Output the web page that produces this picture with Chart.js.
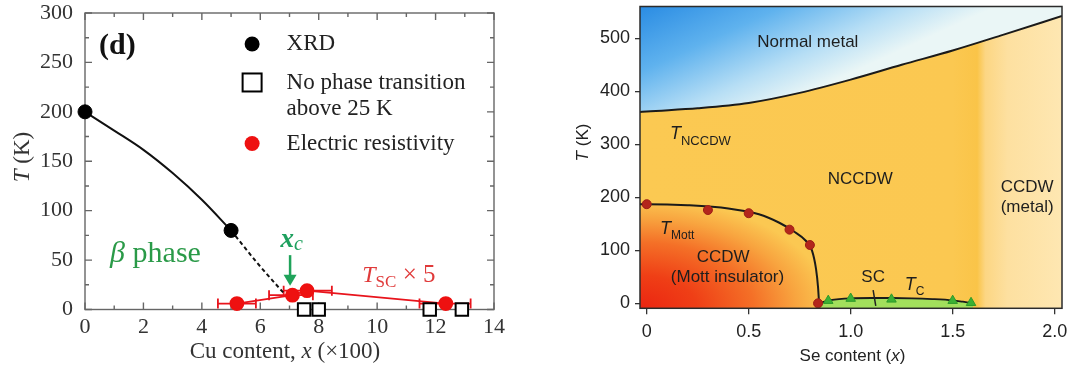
<!DOCTYPE html>
<html><head><meta charset="utf-8">
<script src="https://cdn.jsdelivr.net/npm/chart.js@4/dist/chart.umd.min.js"></script>
<style>
html,body{margin:0;padding:0;background:#fff;width:1070px;height:371px;overflow:hidden}
#c1{position:absolute;left:0;top:0}
#c2{position:absolute;left:560px;top:0}
</style></head><body>
<canvas id="c1" width="540" height="371"></canvas>
<canvas id="c2" width="510" height="371"></canvas>
<script>
// ---------- Left panel data (Cu content) ----------
const cuTicks = [0, 2, 4, 6, 8, 10, 12, 14];
const tTicksLeft = [0, 50, 100, 150, 200, 250, 300];
const xrdX = [0, 5];
const xrdT = [200, 80];
const xrdCurveX = [0, 1, 2, 3, 4, 5];
const xrdCurveT = [200, 181, 161.5, 138, 111, 80];
const xrdDashX = [5, 5.9, 6.85];
const xrdDashT = [80, 47, 15];
const resX = [5.2, 7.1, 7.6, 12.35];
const resT = [6, 14.5, 19, 6];
const resXLow = [4.55, 6.3, 6.8, 11.45];
const resXHigh = [5.85, 7.8, 8.45, 13.2];
const noTransX = [7.5, 8.0, 11.8, 12.9];
const noTransT = [0, 0, 0, 0];

// ---------- Right panel data (Se content) ----------
const seTicks = [0, 0.5, 1.0, 1.5, 2.0];
const tTicksRight = [0, 100, 200, 300, 400, 500];
const nccdwX = [-0.033, 0, 0.25, 0.5, 0.75, 1.0, 1.25, 1.5, 1.75, 2.036];
const nccdwT = [361, 362, 368, 378, 397, 422, 450, 477, 507, 542];
const mottCurveX = [-0.033, 0, 0.2, 0.4, 0.55, 0.65, 0.72, 0.78, 0.81, 0.83, 0.84, 0.845];
const mottCurveT = [187, 187, 185, 179, 168, 152, 136, 118, 100, 65, 30, 0];
const mottX = [0, 0.3, 0.5, 0.7, 0.8, 0.84];
const mottT = [187, 176, 170, 139, 110, 0];
const tcCurveX = [0.845, 0.9, 1.0, 1.1, 1.2, 1.3, 1.4, 1.5, 1.55, 1.6];
const tcCurveT = [0, 6, 9.5, 10, 10, 9.5, 8, 5.5, 3, 0];
const tcX = [0.89, 1.0, 1.2, 1.5, 1.59];
const tcT = [5, 9, 7.5, 5, 1];
const ccdwMetalX = 1.65;

const pts = (xs, ys) => xs.map((x, i) => ({x: x, y: ys[i]}));

const SERIF = '"Liberation Serif", "Times New Roman", serif';
const SANS = '"Liberation Sans", Arial, sans-serif';

function runs(ctx, parts, x, y, align) {
  let w = 0;
  for (const p of parts) { ctx.font = p.f; p.w = ctx.measureText(p.t).width; w += p.w; }
  let cx = align === 'center' ? x - w / 2 : (align === 'right' ? x - w : x);
  ctx.textAlign = 'left';
  for (const p of parts) { ctx.font = p.f; ctx.fillStyle = p.c || '#222'; ctx.fillText(p.t, cx, y + (p.dy || 0)); cx += p.w; }
}

// ---------- Left chart ----------
const leftDecor = {
  id: 'leftDecor',
  beforeDatasetsDraw(chart) {
    const {ctx, chartArea: a, scales: {x, y}} = chart;
    ctx.save();
    ctx.strokeStyle = '#666'; ctx.lineWidth = 1.4;
    ctx.strokeRect(a.left, a.top, a.right - a.left, a.bottom - a.top);
    ctx.beginPath();
    for (let v = x.min; v <= x.max; v += 1) {
      const px = x.getPixelForValue(v), len = cuTicks.includes(v) ? 7 : 4;
      ctx.moveTo(px, a.bottom); ctx.lineTo(px, a.bottom - len);
      ctx.moveTo(px, a.top); ctx.lineTo(px, a.top + len);
    }
    for (let v = y.min; v <= y.max; v += 25) {
      const py = y.getPixelForValue(v), len = tTicksLeft.includes(v) ? 7 : 4;
      ctx.moveTo(a.left, py); ctx.lineTo(a.left + len, py);
      ctx.moveTo(a.right, py); ctx.lineTo(a.right - len, py);
    }
    ctx.stroke();
    // error bars
    ctx.strokeStyle = '#e8141c'; ctx.lineWidth = 1.8;
    ctx.beginPath();
    resX.forEach((v, i) => {
      const py = y.getPixelForValue(resT[i]);
      const x0 = x.getPixelForValue(resXLow[i]), x1 = x.getPixelForValue(resXHigh[i]);
      ctx.moveTo(x0, py); ctx.lineTo(x1, py);
      ctx.moveTo(x0, py - 5); ctx.lineTo(x0, py + 5);
      ctx.moveTo(x1, py - 5); ctx.lineTo(x1, py + 5);
    });
    ctx.stroke();
    ctx.restore();
  },
  afterDatasetsDraw(chart) {
    const {ctx, scales: {x, y}} = chart;
    const X = v => x.getPixelForValue(v), Y = v => y.getPixelForValue(v);
    ctx.save();
    ctx.textBaseline = 'middle';
    runs(ctx, [{t: '(d)', f: 'bold 30px ' + SERIF, c: '#111'}], X(1.11), Y(266.7), 'center');
    ctx.textBaseline = 'alphabetic';
    runs(ctx, [{t: 'β', f: 'italic 30px ' + SERIF, c: '#2a9a48'}, {t: ' phase', f: '30px ' + SERIF, c: '#2a9a48'}], X(0.86), Y(48), 'left');
    runs(ctx, [{t: 'x', f: 'bold italic 27px ' + SERIF, c: '#1ea05e'}, {t: 'c', f: 'italic 20px ' + SERIF, c: '#1ea05e', dy: 3}], X(6.69), Y(63), 'left');
    // arrow
    ctx.strokeStyle = '#1fa35a'; ctx.fillStyle = '#1fa35a'; ctx.lineWidth = 2.5;
    const ax = X(7.02), ay0 = Y(55), ay1 = Y(24);
    ctx.beginPath(); ctx.moveTo(ax, ay0); ctx.lineTo(ax, ay1 - 8); ctx.stroke();
    ctx.beginPath(); ctx.moveTo(ax - 6.5, ay1 - 11); ctx.lineTo(ax + 6.5, ay1 - 11); ctx.lineTo(ax, ay1); ctx.closePath(); ctx.fill();
    runs(ctx, [{t: 'T', f: 'italic 24px ' + SERIF, c: '#e03a3a'}, {t: 'SC', f: '17px ' + SERIF, c: '#e03a3a', dy: 5}, {t: ' × 5', f: '25px ' + SERIF, c: '#e03a3a'}], X(9.49), Y(27.8), 'left');
    // legend
    ctx.textBaseline = 'middle';
    const lx = X(5.72), tx = X(6.9);
    ctx.fillStyle = '#000';
    ctx.beginPath(); ctx.arc(lx, Y(268.6), 7.5, 0, Math.PI * 2); ctx.fill();
    ctx.fillStyle = '#fff'; ctx.strokeStyle = '#000'; ctx.lineWidth = 2;
    ctx.fillRect(lx - 9.5, Y(229.7) - 9, 19, 18); ctx.strokeRect(lx - 9.5, Y(229.7) - 9, 19, 18);
    ctx.fillStyle = '#ee1111';
    ctx.beginPath(); ctx.arc(lx, Y(168), 7.5, 0, Math.PI * 2); ctx.fill();
    const lf = '23px ' + SERIF;
    runs(ctx, [{t: 'XRD', f: lf}], tx, Y(268.6), 'left');
    runs(ctx, [{t: 'No phase transition', f: lf}], tx, Y(229.7), 'left');
    runs(ctx, [{t: 'above 25 K', f: lf}], tx, Y(202.9), 'left');
    runs(ctx, [{t: 'Electric resistivity', f: lf}], tx, Y(168), 'left');
    ctx.restore();
  },
  afterDraw(chart) {
    const {ctx} = chart;
    ctx.save();
    ctx.textBaseline = 'middle';
    runs(ctx, [{t: 'Cu content, ', f: '23px ' + SERIF, c: '#333'}, {t: 'x', f: 'italic 23px ' + SERIF, c: '#333'}, {t: ' (×100)', f: '23px ' + SERIF, c: '#333'}], 285, 352, 'center');
    ctx.translate(23, 157); ctx.rotate(-Math.PI / 2);
    runs(ctx, [{t: 'T', f: 'italic 23px ' + SERIF, c: '#333'}, {t: ' (K)', f: '23px ' + SERIF, c: '#333'}], 0, 0, 'center');
    ctx.restore();
  }
};

new Chart(document.getElementById('c1'), {
  type: 'line',
  data: {datasets: [
    {label: 'XRD', data: pts(xrdX, xrdT), showLine: false, pointRadius: 7, pointBackgroundColor: '#000', pointBorderColor: '#000', order: 0, clip: false},
    {label: 'No phase transition above 25 K', data: pts(noTransX, noTransT), showLine: false, pointStyle: 'rect', pointRadius: 8.8, pointBorderWidth: 2, pointBackgroundColor: '#fff', pointBorderColor: '#000', order: 1, clip: false},
    {label: 'Electric resistivity', data: pts(resX, resT), borderColor: '#e8141c', borderWidth: 1.8, pointRadius: 6.5, pointBackgroundColor: '#ee1111', pointBorderColor: '#ee1111', order: 2, clip: false},
    {label: 'XRD trend', data: pts(xrdCurveX, xrdCurveT), borderColor: '#111', borderWidth: 2, pointRadius: 0, cubicInterpolationMode: 'monotone', order: 3},
    {label: 'XRD extrapolation', data: pts(xrdDashX, xrdDashT), borderColor: '#111', borderWidth: 2, borderDash: [4, 3], pointRadius: 0, cubicInterpolationMode: 'monotone', order: 3}
  ]},
  options: {
    responsive: false, animation: false, events: [],
    layout: {padding: {top: 13, right: 46, left: 0, bottom: 0}},
    plugins: {legend: {display: false}, tooltip: {enabled: false}},
    scales: {
      x: {type: 'linear', min: 0, max: 14, grid: {display: false, drawTicks: false}, border: {display: false},
        afterBuildTicks: s => { s.ticks = cuTicks.map(v => ({value: v})); },
        afterFit: s => { s.height = 61.5; s.paddingLeft = 0; s.paddingRight = 0; },
        ticks: {font: {family: SERIF, size: 22}, color: '#333', padding: 5, maxRotation: 0, autoSkip: false}},
      y: {type: 'linear', min: 0, max: 300, grid: {display: false, drawTicks: false}, border: {display: false},
        afterBuildTicks: s => { s.ticks = tTicksLeft.map(v => ({value: v})); },
        afterFit: s => { s.width = 85; s.paddingTop = 0; s.paddingBottom = 0; },
        ticks: {font: {family: SERIF, size: 22}, color: '#333', padding: 12, autoSkip: false}}
    }
  },
  plugins: [leftDecor]
});

// ---------- Right chart ----------
function makePattern(chart, painter) {
  const a = chart.chartArea;
  if (!a) return 'rgba(0,0,0,0)';
  const off = document.createElement('canvas');
  off.width = chart.width; off.height = chart.height;
  const o = off.getContext('2d');
  painter(o, a);
  return chart.ctx.createPattern(off, 'no-repeat');
}
let bluePat = null, mottPat = null;
function bluePattern(context) {
  const chart = context.chart;
  if (!chart.chartArea) return 'rgba(0,0,0,0)';
  if (!bluePat) bluePat = makePattern(chart, (o, a) => {
    const g = o.createLinearGradient(a.left, a.top, a.left + 62, a.top + 135);
    g.addColorStop(0, '#2a8ce3');
    g.addColorStop(0.4, '#5fb2ee');
    g.addColorStop(0.75, '#b6def5');
    g.addColorStop(1, '#eaf6f6');
    o.fillStyle = g; o.fillRect(0, 0, chart.width, chart.height);
  });
  return bluePat;
}
function mottPattern(context) {
  const chart = context.chart;
  if (!chart.chartArea) return 'rgba(0,0,0,0)';
  if (!mottPat) mottPat = makePattern(chart, (o, a) => {
    o.save(); o.translate(a.left, a.bottom); o.scale(1, 110 / 190);
    const g = o.createRadialGradient(0, 0, 0, 0, 0, 190);
    g.addColorStop(0, '#eb2511');
    g.addColorStop(0.3, '#ef3f16');
    g.addColorStop(0.6, '#f47027');
    g.addColorStop(0.82, '#f8a43f');
    g.addColorStop(1, '#fbc852');
    o.fillStyle = g; o.fillRect(-200, -1000, 1200, 1200);
    o.restore();
  });
  return mottPat;
}

const rightDecor = {
  id: 'rightDecor',
  beforeDatasetsDraw(chart) {
    const {ctx, chartArea: a, scales: {x}} = chart;
    const f = v => Math.min(1, Math.max(0, (x.getPixelForValue(v) - a.left) / (a.right - a.left)));
    const g = ctx.createLinearGradient(a.left, 0, a.right, 0);
    g.addColorStop(0, '#fbc952');
    g.addColorStop(f(1.5), '#fbc851');
    g.addColorStop(f(ccdwMetalX - 0.03), '#fac448');
    g.addColorStop(f(ccdwMetalX + 0.01), '#fcd683');
    g.addColorStop(f(ccdwMetalX + 0.12), '#fde0a0');
    g.addColorStop(1, '#fee7b2');
    ctx.save(); ctx.fillStyle = g;
    ctx.fillRect(a.left, a.top, a.right - a.left, a.bottom - a.top);
    ctx.restore();
  },
  afterDatasetsDraw(chart) {
    const {ctx, chartArea: a, scales: {x, y}} = chart;
    const X = v => x.getPixelForValue(v), Y = v => y.getPixelForValue(v);
    ctx.save();
    const c = '#1e1e1e', F = '17px ' + SANS;
    ctx.textBaseline = 'middle';
    runs(ctx, [{t: 'Normal metal', f: F, c: c}], X(0.79), Y(493), 'center');
    runs(ctx, [{t: 'NCCDW', f: F, c: c}], X(1.047), Y(233.7), 'center');
    runs(ctx, [{t: 'CCDW', f: F, c: c}], X(1.865), Y(219.7), 'center');
    runs(ctx, [{t: '(metal)', f: F, c: c}], X(1.865), Y(181.3), 'center');
    runs(ctx, [{t: 'CCDW', f: F, c: c}], X(0.375), Y(87.3), 'center');
    runs(ctx, [{t: '(Mott insulator)', f: F, c: c}], X(0.396), Y(48.3), 'center');
    runs(ctx, [{t: 'SC', f: F, c: c}], X(1.11), Y(49.8), 'center');
    ctx.textBaseline = 'alphabetic';
    runs(ctx, [{t: 'T', f: 'italic 18px ' + SANS, c: c}, {t: 'NCCDW', f: '13px ' + SANS, c: c, dy: 6}], X(0.114), Y(309.6), 'left');
    runs(ctx, [{t: 'T', f: 'italic 18px ' + SANS, c: c}, {t: 'Mott', f: '12px ' + SANS, c: c, dy: 5}], X(0.065), Y(131.6), 'left');
    runs(ctx, [{t: 'T', f: 'italic 18px ' + SANS, c: c}, {t: 'C', f: '12px ' + SANS, c: c, dy: 5}], X(1.265), Y(25), 'left');
    // SC pointer
    ctx.strokeStyle = '#222'; ctx.lineWidth = 1.5;
    ctx.beginPath(); ctx.moveTo(X(1.11), Y(25)); ctx.lineTo(X(1.123), Y(-5)); ctx.stroke();
    // frame
    ctx.strokeStyle = '#2b2b2b'; ctx.lineWidth = 1.5;
    ctx.strokeRect(a.left, a.top, a.right - a.left, a.bottom - a.top);
    ctx.restore();
  },
  afterDraw(chart) {
    const {ctx} = chart;
    ctx.save();
    ctx.textBaseline = 'middle';
    runs(ctx, [{t: 'Se content (', f: '17px ' + SANS, c: '#222'}, {t: 'x', f: 'italic 17px ' + SANS, c: '#222'}, {t: ')', f: '17px ' + SANS, c: '#222'}], 292.5, 356, 'center');
    ctx.translate(23.5, 142.5); ctx.rotate(-Math.PI / 2);
    runs(ctx, [{t: 'T', f: 'italic 17px ' + SANS, c: '#222'}, {t: ' (K)', f: '17px ' + SANS, c: '#222'}], 0, 0, 'center');
    ctx.restore();
  }
};

new Chart(document.getElementById('c2'), {
  type: 'line',
  data: {datasets: [
    {label: 'T Mott points', data: pts(mottX, mottT), showLine: false, pointRadius: 4.5, pointBackgroundColor: '#b3261c', pointBorderColor: '#9e1f16', pointBorderWidth: 1, order: 0, clip: false},
    {label: 'Tc points', data: pts(tcX, tcT), showLine: false, pointStyle: 'triangle', pointRadius: 5.5, pointBackgroundColor: '#3cb034', pointBorderColor: '#2e9a2a', pointBorderWidth: 1, order: 0, clip: false},
    {label: 'Tc', data: pts(tcCurveX, tcCurveT), borderColor: '#1a1a1a', borderWidth: 1.8, pointRadius: 0, cubicInterpolationMode: 'monotone', fill: 'start', backgroundColor: '#a2df5c', order: 1},
    {label: 'T Mott', data: pts(mottCurveX, mottCurveT), borderColor: '#1a1a1a', borderWidth: 2, pointRadius: 0, cubicInterpolationMode: 'monotone', fill: 'start', backgroundColor: mottPattern, order: 2},
    {label: 'T NCCDW', data: pts(nccdwX, nccdwT), borderColor: '#1a1a1a', borderWidth: 2, pointRadius: 0, cubicInterpolationMode: 'monotone', fill: 'end', backgroundColor: bluePattern, order: 3}
  ]},
  options: {
    responsive: false, animation: false, events: [],
    layout: {padding: {top: 4, right: 8, left: 0, bottom: 0}},
    plugins: {legend: {display: false}, tooltip: {enabled: false}},
    scales: {
      x: {type: 'linear', min: -0.033, max: 2.036,
        grid: {display: true, drawOnChartArea: false, drawTicks: true, tickLength: 6, color: '#333', lineWidth: 1.3}, border: {display: false},
        afterBuildTicks: s => { s.ticks = seTicks.map(v => ({value: v})); },
        afterFit: s => { s.height = 371 - 308.3; s.paddingLeft = 0; s.paddingRight = 0; },
        ticks: {font: {family: SANS, size: 18}, color: '#222', padding: 7, maxRotation: 0, autoSkip: false,
          callback: v => v === 0 ? '0' : Number(v).toFixed(1)}},
      y: {type: 'linear', min: -9.4, max: 560,
        grid: {display: true, drawOnChartArea: false, drawTicks: true, tickLength: 5, color: '#333', lineWidth: 1.3}, border: {display: false},
        afterBuildTicks: s => { s.ticks = tTicksRight.map(v => ({value: v})); },
        afterFit: s => { s.width = 80; s.paddingTop = 0; s.paddingBottom = 0; },
        ticks: {font: {family: SANS, size: 18}, color: '#222', padding: 5, autoSkip: false}}
    }
  },
  plugins: [rightDecor]
});
</script>
</body></html>
